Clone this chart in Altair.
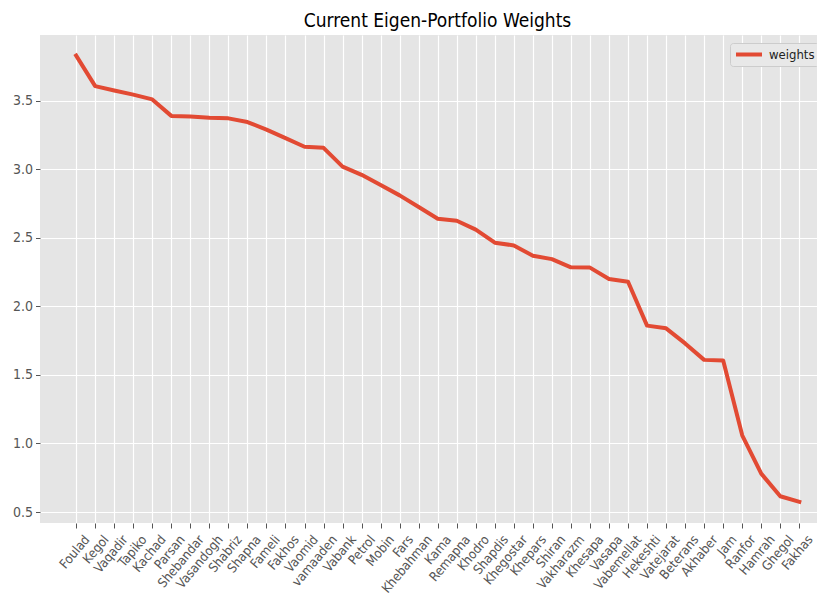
import altair as alt
import pandas as pd

tickers = ["Foulad", "Kegol", "Vaqadir", "Tapiko", "Kachad", "Parsan", "Shebandar",
           "Vasandogh", "Shabriz", "Shapna", "Fameli", "Fakhos", "Vaomid", "vamaaden",
           "Vabank", "Petrol", "Mobin", "Fars", "Khebahman", "Kama", "Remapna", "Khodro",
           "Shapdis", "Khegostar", "Khepars", "Shiran", "Vakharazm", "Khesapa", "Vasapa",
           "Vabemellat", "Hekeshti", "Vatejarat", "Beterans", "Akhaber", "Jam", "Ranfor",
           "Hamrah", "Ghegol", "Fakhas"]
weights = [3.83, 3.607, 3.575, 3.545, 3.51, 3.39, 3.386, 3.376, 3.372, 3.345, 3.29,
           3.228, 3.165, 3.157, 3.02, 2.96, 2.885, 2.81, 2.725, 2.64, 2.625, 2.56, 2.465,
           2.445, 2.37, 2.345, 2.285, 2.283, 2.2, 2.18, 1.86, 1.84, 1.73, 1.61, 1.605,
           1.06, 0.78, 0.615, 0.575]
series_name = "weights"
title_text = "Current Eigen-Portfolio Weights"
y_ticks = [0.5, 1.0, 1.5, 2.0, 2.5, 3.0, 3.5]

df = pd.DataFrame({
    "idx": list(range(len(tickers))),
    "ticker": tickers,
    "w": weights,
    "series": [series_name] * len(tickers),
})

FONT = "DejaVu Sans Condensed, DejaVu Sans, sans-serif"
label_expr = "[" + ",".join("'" + t + "'" for t in tickers) + "][datum.value]"

chart = alt.Chart(df).mark_line(strokeWidth=4, strokeJoin="round", strokeCap="square").encode(
    x=alt.X("idx:Q",
            scale=alt.Scale(domain=[-1.9, 38.93], nice=False, zero=False),
            axis=alt.Axis(values=list(range(len(tickers))), labelExpr=label_expr,
                          labelAngle=310, labelAlign="right", labelBaseline="top",
                          labelOffset=6, labelPadding=5, labelFlush=False,
                          labelOverlap=False, labelBound=False,
                          labelFont=FONT, labelFontSize=13, labelColor="#555555",
                          tickSize=5, tickColor="#555555", tickWidth=1,
                          domain=False, grid=True, gridColor="white", gridWidth=1.2),
            title=None),
    y=alt.Y("w:Q",
            scale=alt.Scale(domain=[0.42, 3.98], nice=False, zero=False),
            axis=alt.Axis(values=y_ticks, format=".1f",
                          labelFont=FONT, labelFontSize=14, labelColor="#555555",
                          labelPadding=3, tickSize=4.5, tickColor="#555555", tickWidth=1,
                          domain=False, grid=True, gridColor="white", gridWidth=1.2),
            title=None),
    color=alt.Color("series:N",
                    scale=alt.Scale(domain=[series_name], range=["#E24A33"]),
                    legend=alt.Legend(title=None, orient="none", legendX=690, legendY=8,
                                      symbolType="stroke", symbolSize=676,
                                      symbolStrokeWidth=4, labelFont=FONT,
                                      labelFontSize=13, labelColor="#222222",
                                      labelOffset=5, padding=4, clipHeight=15,
                                      fillColor="#E8E8E8", strokeColor="#CCCCCC",
                                      cornerRadius=3)),
).properties(
    width=777,
    height=488,
    title=alt.Title(title_text, font=FONT, fontSize=19, fontWeight="normal",
                    color="black", anchor="middle", offset=4, dx=9),
    autosize=alt.AutoSizeParams(type="none"),
    padding={"left": 32, "top": 27, "right": 0, "bottom": 72},
    background="white",
).configure_view(fill="#E5E5E5", stroke=None)

chart.save("out.html", embed_options={"renderer": "svg", "actions": False})
